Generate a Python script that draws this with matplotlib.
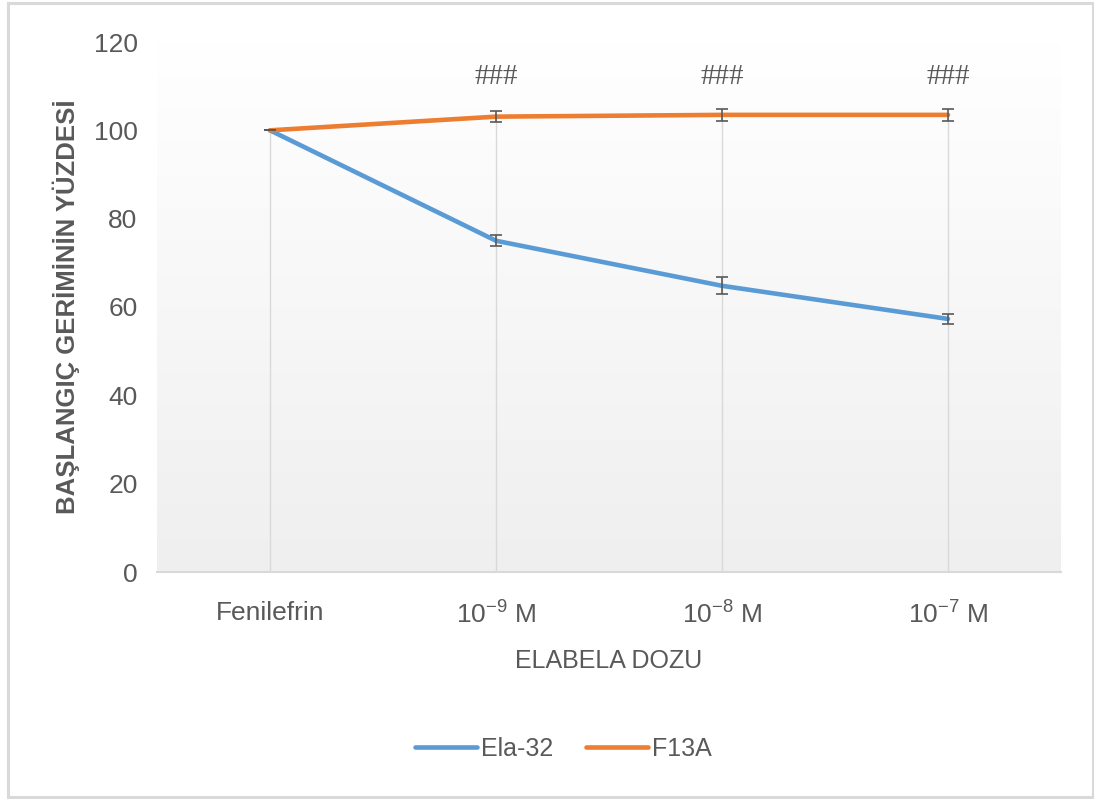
import numpy as np
import matplotlib
matplotlib.use("Agg")
import matplotlib.pyplot as plt
from matplotlib.patches import Rectangle

plt.rcParams['font.family'] = ['Liberation Sans Narrow', 'Liberation Sans', 'DejaVu Sans']
plt.rcParams['mathtext.fontset'] = 'custom'
plt.rcParams['mathtext.rm'] = 'Liberation Sans'
plt.rcParams['mathtext.it'] = 'Liberation Sans'

# Doses on the category axis
categories = ["Fenilefrin", r"$10^{-9}$ M", r"$10^{-8}$ M", r"$10^{-7}$ M"]

# Percentage of initial contraction
ela32 = [100.0, 75.0, 64.8, 57.3]
ela32_err = [0.0, 1.2, 1.9, 1.1]
f13a = [100.0, 103.1, 103.5, 103.5]
f13a_err = [0.0, 1.2, 1.4, 1.4]

# Significance marks above each dose
sig_labels = ["", "###", "###", "###"]

y_ticks = [0, 20, 40, 60, 80, 100, 120]

TEXT = "#595959"
BLUE = "#5B9BD5"
ORANGE = "#ED7D31"

fig = plt.figure(figsize=(10.94, 7.99), dpi=100)

# outer chart border
fig.patches.append(Rectangle((8 / 1094, 2 / 799), 1085 / 1094, 794 / 799,
                             transform=fig.transFigure, fill=False,
                             edgecolor="#d9d9d9", linewidth=2.2))

ax = fig.add_axes([157 / 1094, 1 - 572 / 799, 904 / 1094, 530 / 799])
x = np.arange(len(categories))
ax.set_xlim(-0.5, len(categories) - 0.5)
ax.set_ylim(0, 120)

# plot-area gradient, white at the top fading to light grey at the bottom
grad = np.linspace(0.0, 1.0, 256).reshape(-1, 1)
cmap = matplotlib.colors.LinearSegmentedColormap.from_list("bg", ["#efefef", "#ffffff"])
ax.imshow(grad, extent=[0, 1, 0, 1], transform=ax.transAxes, aspect="auto",
          cmap=cmap, origin="lower", zorder=0)

# drop lines from the highest series value down to the axis
top = np.maximum(ela32, f13a)
ax.vlines(x, 0, top, color="#d9d9d9", linewidth=1.0, zorder=1)

for s in ["top", "right", "left"]:
    ax.spines[s].set_visible(False)
ax.spines["bottom"].set_color("#d9d9d9")
ax.spines["bottom"].set_linewidth(1.5)

ax.plot(x, ela32, color=BLUE, linewidth=3.3, solid_capstyle="round", zorder=3, label="Ela-32")
ax.plot(x, f13a, color=ORANGE, linewidth=3.3, solid_capstyle="round", zorder=3, label="F13A")
ax.errorbar(x, ela32, yerr=ela32_err, fmt="none", ecolor=TEXT, elinewidth=1.2,
            capsize=4.5, capthick=1.2, zorder=4)
ax.errorbar(x, f13a, yerr=f13a_err, fmt="none", ecolor=TEXT, elinewidth=1.2,
            capsize=4.5, capthick=1.2, zorder=4)

for xi, lab in zip(x, sig_labels):
    if lab:
        ax.text(xi, 112, lab, ha="center", va="center", fontsize=21,
                color=TEXT, family="Liberation Serif")

ax.set_yticks(y_ticks)
ax.set_xticks(x)
ax.set_xticklabels(categories)
ax.tick_params(axis="both", length=0, labelsize=19, labelcolor=TEXT)
ax.tick_params(axis="y", pad=14)
ax.tick_params(axis="x", pad=21)

ax.set_xlabel("ELABELA DOZU", fontsize=18, color=TEXT, labelpad=15)
ax.set_ylabel("BAŞLANGIÇ GERİMİNİN YÜZDESİ", fontsize=18.5, color=TEXT,
              fontweight="bold", labelpad=10)

leg = fig.legend(loc="center", bbox_to_anchor=(563 / 1094, 1 - 749 / 799), ncol=2,
                 frameon=False, fontsize=18, handlelength=2.5, handletextpad=0.15,
                 columnspacing=1.3, labelcolor=TEXT)
for h in leg.get_lines():
    h.set_linewidth(3.3)

fig.savefig("out.png", dpi=100)
